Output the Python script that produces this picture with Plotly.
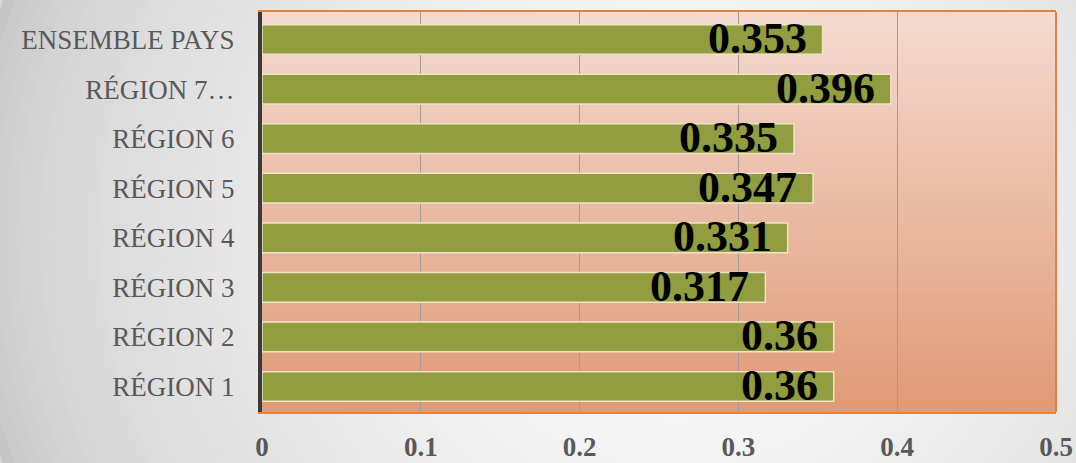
import plotly.graph_objects as go

categories = ["RÉGION 1", "RÉGION 2", "RÉGION 3", "RÉGION 4", "RÉGION 5",
              "RÉGION 6", "RÉGION 7…", "ENSEMBLE PAYS"]
values = [0.36, 0.36, 0.317, 0.331, 0.347, 0.335, 0.396, 0.353]
value_labels = ["0.36", "0.36", "0.317", "0.331", "0.347", "0.335", "0.396", "0.353"]
x_ticks = [0, 0.1, 0.2, 0.3, 0.4, 0.5]
x_tick_labels = ["0", "0.1", "0.2", "0.3", "0.4", "0.5"]


def lerp(c1, c2, t):
    return "rgb(%d,%d,%d)" % tuple(round(a + (b - a) * t) for a, b in zip(c1, c2))


shapes = []
# page background: radial-ish light gradient via concentric ellipses
outer = (198, 198, 198)
inner = (254, 254, 254)
n = 60
for i in range(n):
    t = i / (n - 1)
    rx = 0.85 * (1 - t) + 0.05
    ry = 1.6 * (1 - t) + 0.1
    cx, cy = 0.52, 0.45
    shapes.append(dict(type="circle", xref="paper", yref="paper", layer="below",
                       x0=cx - rx, x1=cx + rx, y0=cy - ry, y1=cy + ry,
                       fillcolor=lerp(outer, inner, t ** 0.6), line=dict(width=0)))
# plot area: vertical gradient pink -> salmon
top_c = (244, 218, 208)
bot_c = (224, 154, 118)
m = 40
for i in range(m):
    t0 = i / m
    shapes.append(dict(type="rect", xref="x domain", yref="y domain", layer="below",
                       x0=0, x1=1, y0=t0, y1=t0 + 1 / m + 0.002,
                       fillcolor=lerp(bot_c, top_c, (i + 0.5) / m), line=dict(width=0)))
# right border
shapes.append(dict(type="line", xref="x domain", yref="y domain", layer="above",
                   x0=1, x1=1, y0=0, y1=1, line=dict(color="#E2823F", width=2)))

fig = go.Figure()
fig.add_trace(go.Bar(
    y=categories, x=values, orientation="h",
    marker=dict(color="#919D3E", line=dict(color="#EFE3C6", width=1.5)),
    hoverinfo="x+y",
))

annotations = []
for c, v, lab in zip(categories, values, value_labels):
    annotations.append(dict(x=v, y=c, xref="x", yref="y", text="<b>%s</b>" % lab,
                            showarrow=False, xanchor="right", yanchor="middle",
                            xshift=-14, yshift=1,
                            font=dict(family="Liberation Serif", size=44, color="#000000")))

fig.update_layout(
    width=1076, height=463,
    margin=dict(l=262, r=20, t=12, b=51),
    paper_bgcolor="#d8d8d8", plot_bgcolor="rgba(0,0,0,0)",
    showlegend=False, bargap=0.4,
    shapes=shapes, annotations=annotations,
    xaxis=dict(range=[0, 0.5], tickvals=x_ticks, ticktext=["<b>%s</b>" % t for t in x_tick_labels],
               showgrid=True, gridcolor="#A89A94", gridwidth=1, zeroline=False,
               showline=True, mirror=True, linecolor="#E2823F", linewidth=2,
               ticks="", ticklabelstandoff=10, automargin=False,
               tickfont=dict(family="Liberation Serif", size=27, color="#595959")),
    yaxis=dict(categoryorder="array", categoryarray=categories, showgrid=False,
               zeroline=False, showline=True, linecolor="#3A3A3A", linewidth=4,
               ticks="", ticklabelstandoff=18, automargin=False,
               tickfont=dict(family="Liberation Serif", size=27, color="#595959")),
)

fig.write_html("out.html", post_script="document.body.style.margin='0';",
               config={"displayModeBar": False})
